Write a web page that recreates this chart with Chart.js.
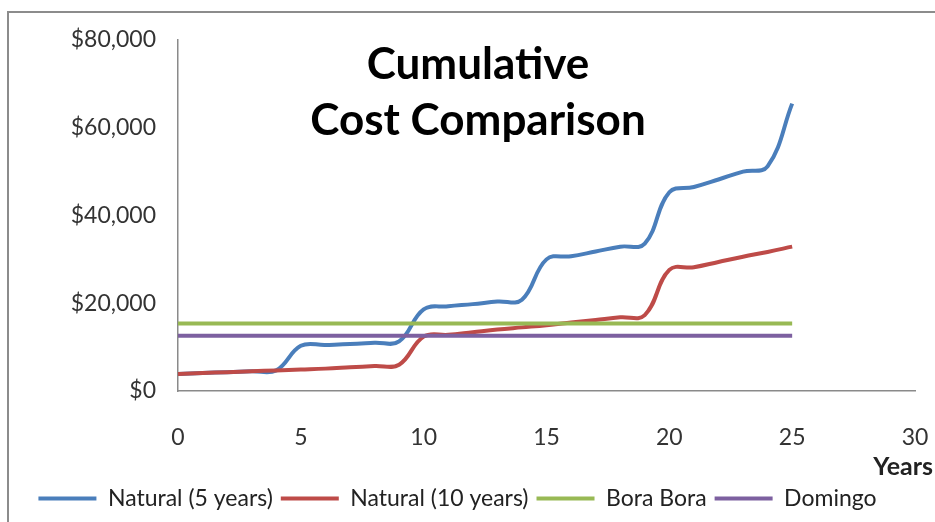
<!DOCTYPE html>
<html>
<head>
<meta charset="utf-8">
<script src="https://cdn.jsdelivr.net/npm/chart.js@4/dist/chart.umd.min.js"></script>
<style>
  body { margin: 0; background: #fff; }
  #wrap { width: 935px; height: 522px; position: relative; }
</style>
</head>
<body>
<div id="wrap"><canvas id="chart"></canvas></div>
<script>
// years on the x axis
const years = [0, 1, 2, 3, 4, 5, 6, 7, 8, 9, 10, 11, 12, 13, 14, 15, 16, 17, 18, 19, 20, 21, 22, 23, 24, 25];
const natural5 = [3900, 4100, 4300, 4500, 4700, 10300, 10500, 10700, 11000, 11300, 18600, 19300, 19800, 20400, 20800, 30000, 30700, 31800, 32900, 33600, 45300, 46500, 48200, 50000, 51200, 65500];
const natural10 = [3900, 4100, 4300, 4500, 4700, 4900, 5100, 5400, 5700, 6000, 12400, 12800, 13400, 14000, 14500, 15000, 15600, 16200, 16800, 17300, 27600, 28200, 29400, 30600, 31700, 32900];
const flatYears = [0, 25];
const boraBora = [15400, 15400];
const domingo = [12600, 12600];
const xTicks = [0, 5, 10, 15, 20, 25, 30];
const yTicks = [0, 20000, 40000, 60000, 80000];

const toPoints = (xs, ys) => xs.map((x, i) => ({ x: x, y: ys[i] }));

const fontFam = 'Lato, "Open Sans", sans-serif';

// frame, title and axis caption drawn on the canvas
const extras = {
  id: 'extras',
  beforeDraw(chart) {
    const ctx = chart.ctx;
    ctx.save();
    ctx.strokeStyle = '#8c8c8c';
    ctx.lineWidth = 2;
    ctx.beginPath();
    ctx.moveTo(8, 522);
    ctx.lineTo(8, 12);
    ctx.lineTo(935, 12);
    ctx.stroke();
    ctx.restore();
  },
  afterDraw(chart) {
    const ctx = chart.ctx;
    ctx.save();
    ctx.fillStyle = '#000';
    ctx.textAlign = 'center';
    ctx.textBaseline = 'middle';
    ctx.font = 'bold 44px ' + fontFam;
    ctx.fillText('Cumulative', 478, 65);
    ctx.fillText('Cost Comparison', 478, 121);
    ctx.font = 'bold 25px ' + fontFam;
    ctx.textAlign = 'right';
    ctx.fillStyle = '#222';
    ctx.fillText('Years', 933, 467);
    ctx.restore();
  }
};

// later series sit on top, like the original
const lineSet = (label, xs, ys, color, order) => ({
  label: label,
  data: toPoints(xs, ys),
  borderColor: color,
  backgroundColor: color,
  borderWidth: 4,
  pointRadius: 0,
  tension: 0.4,
  fill: false,
  order: order
});

new Chart(document.getElementById('chart'), {
  type: 'line',
  data: {
    datasets: [
      lineSet('Natural (5 years)', years, natural5, '#4a7ebb', 4),
      lineSet('Natural (10 years)', years, natural10, '#be4b48', 3),
      lineSet('Bora Bora', flatYears, boraBora, '#98b954', 2),
      lineSet('Domingo', flatYears, domingo, '#7d60a0', 1)
    ]
  },
  options: {
    responsive: true,
    maintainAspectRatio: false,
    animation: false,
    layout: { padding: { left: 0, right: 20, top: 40, bottom: 2 } },
    plugins: {
      tooltip: { enabled: false },
      legend: {
        position: 'bottom',
        labels: {
          usePointStyle: true,
          pointStyle: 'line',
          pointStyleWidth: 58,
          color: '#222',
          padding: 8,
          font: { family: fontFam, size: 23 },
          sort: (a, b) => a.datasetIndex - b.datasetIndex
        }
      }
    },
    scales: {
      x: {
        type: 'linear',
        min: 0,
        max: 30,
        afterBuildTicks(scale) { scale.ticks = xTicks.map(v => ({ value: v })); },
        afterFit(scale) {
          scale.height = 88;
          scale.paddingLeft = 0;
          scale.paddingRight = 0;
        },
        grid: { display: false, drawTicks: false },
        border: { color: '#8a8a8a', width: 1.5 },
        ticks: { padding: 33, color: '#333', font: { family: fontFam, size: 23 } }
      },
      y: {
        min: 0,
        max: 80000,
        afterBuildTicks(scale) { scale.ticks = yTicks.map(v => ({ value: v })); },
        afterFit(scale) { scale.width = 178; },
        grid: { display: false, drawTicks: false },
        border: { color: '#8a8a8a', width: 1.5 },
        ticks: {
          padding: 22,
          color: '#333',
          font: { family: fontFam, size: 23 },
          callback: v => '$' + v.toLocaleString('en-US')
        }
      }
    }
  },
  plugins: [extras]
});
</script>
</body>
</html>
